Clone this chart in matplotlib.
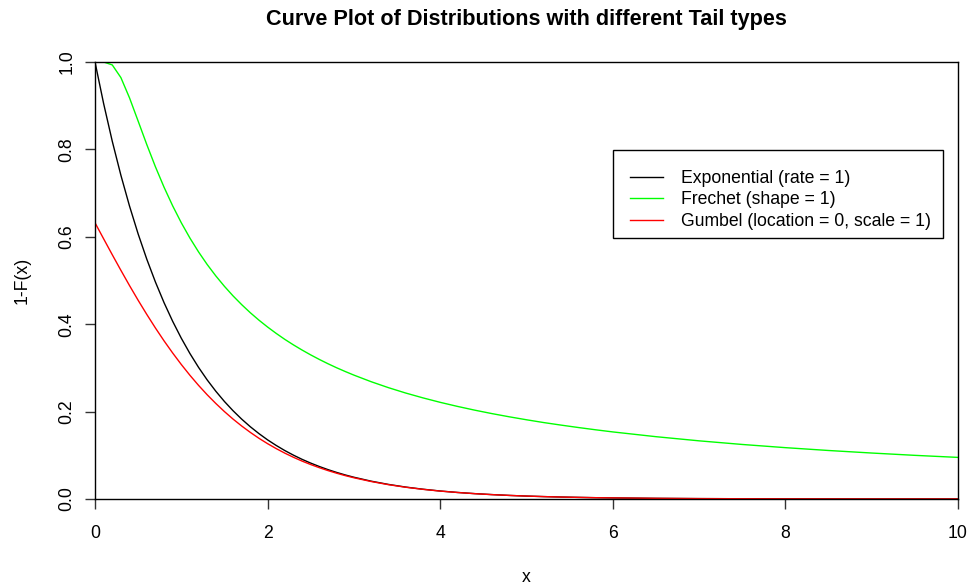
import numpy as np
import matplotlib
matplotlib.use("Agg")
import matplotlib.pyplot as plt
from matplotlib.patches import Rectangle

plt.rcParams['font.family'] = ['Liberation Sans', 'DejaVu Sans']

x = [0.0, 0.1, 0.2, 0.3, 0.4, 0.5, 0.6, 0.7, 0.8, 0.9,
     1.0, 1.1, 1.2, 1.3, 1.4, 1.5, 1.6, 1.7, 1.8, 1.9,
     2.0, 2.1, 2.2, 2.3, 2.4, 2.5, 2.6, 2.7, 2.8, 2.9,
     3.0, 3.2, 3.4, 3.6, 3.8, 4.0, 4.2, 4.4, 4.6, 4.8,
     5.0, 5.2, 5.4, 5.6, 5.8, 6.0, 6.5, 7.0, 7.5, 8.0,
     8.5, 9.0, 9.5, 10.0]

exponential = [1.0, 0.9048, 0.8187, 0.7408, 0.6703, 0.6065, 0.5488, 0.4966, 0.4493, 0.4066,
               0.3679, 0.3329, 0.3012, 0.2725, 0.2466, 0.2231, 0.2019, 0.1827, 0.1653, 0.1496,
               0.1353, 0.1225, 0.1108, 0.1003, 0.0907, 0.0821, 0.0743, 0.0672, 0.0608, 0.0550,
               0.0498, 0.0408, 0.0334, 0.0273, 0.0224, 0.0183, 0.0150, 0.0123, 0.0101, 0.0082,
               0.0067, 0.0055, 0.0045, 0.0037, 0.0030, 0.0025, 0.0015, 0.0009, 0.0006, 0.0003,
               0.0002, 0.0001, 0.0001, 0.0000]

frechet = [np.nan, 1.0000, 0.9933, 0.9643, 0.9179, 0.8647, 0.8111, 0.7603, 0.7135, 0.6708,
           0.6321, 0.5971, 0.5654, 0.5366, 0.5105, 0.4866, 0.4647, 0.4447, 0.4262, 0.4092,
           0.3935, 0.3789, 0.3652, 0.3526, 0.3408, 0.3297, 0.3193, 0.3095, 0.3003, 0.2917,
           0.2835, 0.2684, 0.2548, 0.2425, 0.2314, 0.2212, 0.2119, 0.2033, 0.1954, 0.1881,
           0.1813, 0.1749, 0.1691, 0.1636, 0.1584, 0.1535, 0.1426, 0.1331, 0.1248, 0.1175,
           0.1110, 0.1052, 0.0999, 0.0952]

gumbel = [0.6321, 0.5954, 0.5590, 0.5233, 0.4884, 0.4547, 0.4224, 0.3914, 0.3619, 0.3341,
          0.3078, 0.2831, 0.2600, 0.2385, 0.2186, 0.2000, 0.1828, 0.1670, 0.1524, 0.1389,
          0.1266, 0.1153, 0.1049, 0.0954, 0.0867, 0.0788, 0.0716, 0.0650, 0.0590, 0.0535,
          0.0486, 0.0400, 0.0328, 0.0269, 0.0221, 0.0181, 0.0149, 0.0122, 0.0100, 0.0082,
          0.0067, 0.0055, 0.0045, 0.0037, 0.0030, 0.0025, 0.0015, 0.0009, 0.0006, 0.0003,
          0.0002, 0.0001, 0.0001, 0.0000]

labels = ["Exponential (rate = 1)", "Frechet (shape = 1)", "Gumbel (location = 0, scale = 1)"]
colors = ["black", "#00FF00", "#FF0000"]
xticks = [0, 2, 4, 6, 8, 10]
yticks = [0.0, 0.2, 0.4, 0.6, 0.8, 1.0]

W, H = 969, 585
L, R, T, B = 95, 958, 62, 499
fs = 12.7

fig = plt.figure(figsize=(W / 100, H / 100), dpi=100)
ax = fig.add_axes([L / W, 1 - B / H, (R - L) / W, (B - T) / H])

for series, lab, col in zip([exponential, frechet, gumbel], labels, colors):
    ax.plot(x, series, color=col, lw=1.0, label=lab)

ax.set_xlim(0, 10)
ax.set_ylim(0, 1)
ax.set_xticks(xticks)
ax.set_xticklabels([str(t) for t in xticks])
ax.set_yticks(yticks)
ax.set_yticklabels([f"{t:.1f}" for t in yticks], rotation=90, va='center')
ax.tick_params(axis='both', direction='out', length=7, width=1, labelsize=fs,
               color='#333333', labelcolor='black')
ax.tick_params(axis='x', pad=12)
ax.tick_params(axis='y', pad=7)
for s in ax.spines.values():
    s.set_linewidth(1.0)
    s.set_color('black')

ax.set_xlabel("x", fontsize=fs, va='center')
ax.xaxis.set_label_coords(0.5, (B - 578) / (B - T))
ax.set_ylabel("1-F(x)", fontsize=fs, va='center')
ax.yaxis.set_label_coords((22 - L) / (R - L), 0.5)

fig.text((L + R) / 2 / W, 1 - 20 / H,
         "Curve Plot of Distributions with different Tail types",
         fontsize=15.6, fontweight='bold', ha='center', va='center')

# legend box frame (R-style, fixed position)
bx0, by0, bx1, by1 = 613, 150, 943, 238
ax.add_patch(Rectangle((bx0 / W, 1 - by1 / H), (bx1 - bx0) / W, (by1 - by0) / H,
                       transform=fig.transFigure, fill=True, facecolor='white',
                       edgecolor='black', lw=1.0, zorder=4, clip_on=False))

leg = ax.legend(loc='upper left', bbox_to_anchor=((630 - L) / (R - L), (B - 170) / (B - T)),
                fontsize=fs, frameon=False,
                handlelength=1.875, handletextpad=1.02, borderpad=0.0, labelspacing=0.25,
                borderaxespad=0)
leg.set_zorder(5)

fig.savefig("out.png", dpi=100)
